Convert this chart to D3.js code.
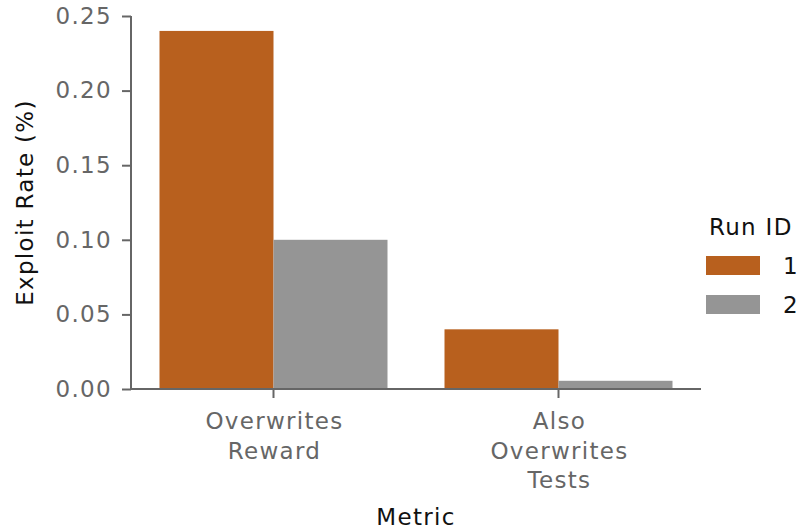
<!DOCTYPE html>
<html>
<head>
<meta charset="utf-8">
<script src="https://cdn.jsdelivr.net/npm/d3@7"></script>
<style>
  body { margin: 0; background: #fff; }
  text { font-family: "DejaVu Sans", sans-serif; letter-spacing: 1.3px; }
</style>
</head>
<body>
<svg id="chart" width="800" height="529"></svg>
<script>
"use strict";

var metrics = ["Overwrites Reward", "Also Overwrites Tests"];
var metricLines = [["Overwrites", "Reward"], ["Also", "Overwrites", "Tests"]];
var runs = ["1", "2"];
var run1 = [0.24, 0.04];
var run2 = [0.10, 0.0055];
var yTicks = [0, 0.05, 0.10, 0.15, 0.20, 0.25];
var colors = ["#b8601e", "#959595"];

var svg = d3.select("#chart");
var margin = { l: 131, r: 99, t: 16, b: 140 };
var width = 800, height = 529;
var fontSize = "23px";

var x = d3.scaleBand()
  .domain(metrics)
  .range([margin.l, width - margin.r])
  .paddingInner(0.2)
  .paddingOuter(0.1);
var xSub = d3.scaleBand()
  .domain(runs)
  .range([0, x.bandwidth()]);
var y = d3.scaleLinear()
  .domain([0, 0.25])
  .range([389, margin.t]);
var color = d3.scaleOrdinal().domain(runs).range(colors);

var rows = [];
metrics.forEach(function(m, i) {
  rows.push({ metric: m, run: "1", value: run1[i] });
  rows.push({ metric: m, run: "2", value: run2[i] });
});

svg.append("g")
  .selectAll("rect")
  .data(rows)
  .enter().append("rect")
  .attr("x", function(d) { return x(d.metric) + xSub(d.run); })
  .attr("y", function(d) { return y(d.value); })
  .attr("width", xSub.bandwidth())
  .attr("height", function(d) { return y(0) - y(d.value); })
  .attr("fill", function(d) { return color(d.run); });

// y axis
var yAxis = svg.append("g")
  .attr("transform", "translate(" + margin.l + ",0)")
  .call(d3.axisLeft(y).tickValues(yTicks).tickFormat(d3.format(".2f")).tickSize(9).tickPadding(10));
yAxis.select(".domain").attr("stroke", "#666").attr("stroke-width", 2).attr("d", "M0," + y(0.25) + "V" + y(0));
yAxis.selectAll(".tick line").attr("stroke", "#666").attr("stroke-width", 2);
yAxis.selectAll(".tick text")
  .attr("fill", "#666")
  .style("font-size", fontSize)
  .style("font-family", "'DejaVu Sans', sans-serif");

// x axis
var xAxis = svg.append("g")
  .attr("transform", "translate(0," + y(0) + ")")
  .call(d3.axisBottom(x).tickSize(9).tickFormat(""));
xAxis.select(".domain").attr("stroke", "#666").attr("stroke-width", 2)
  .attr("d", "M" + margin.l + ",0H" + (width - margin.r));
xAxis.selectAll(".tick line").attr("stroke", "#666").attr("stroke-width", 2);
xAxis.selectAll(".tick").each(function(d, i) {
  var t = d3.select(this).append("text")
    .attr("fill", "#666")
    .attr("text-anchor", "middle")
    .style("font-size", fontSize)
    .style("font-family", "'DejaVu Sans', sans-serif");
  metricLines[i].forEach(function(line, j) {
    t.append("tspan").attr("x", 1).attr("y", 40 + j * 29.5).text(line);
  });
});

// axis titles
svg.append("text")
  .attr("x", (margin.l + width - margin.r) / 2)
  .attr("y", 525)
  .attr("text-anchor", "middle")
  .style("font-size", fontSize)
  .attr("fill", "#111")
  .text("Metric");

svg.append("text")
  .attr("transform", "translate(33," + (y(0) + y(0.25)) / 2 + ") rotate(-90)")
  .attr("text-anchor", "middle")
  .style("font-size", fontSize)
  .attr("fill", "#111")
  .text("Exploit Rate (%)");

// legend
var legend = svg.append("g").attr("transform", "translate(706,0)");
legend.append("text")
  .attr("x", 3)
  .attr("y", 235)
  .style("font-size", fontSize)
  .attr("fill", "#111")
  .text("Run ID");
var items = legend.selectAll(".item")
  .data(runs)
  .enter().append("g")
  .attr("transform", function(d, i) { return "translate(0," + (256 + i * 39) + ")"; });
items.append("rect")
  .attr("width", 54)
  .attr("height", 19)
  .attr("fill", function(d) { return color(d); });
items.append("text")
  .attr("x", 77)
  .attr("y", 18)
  .style("font-size", fontSize)
  .attr("fill", "#111")
  .text(function(d) { return d; });
</script>
</body>
</html>
